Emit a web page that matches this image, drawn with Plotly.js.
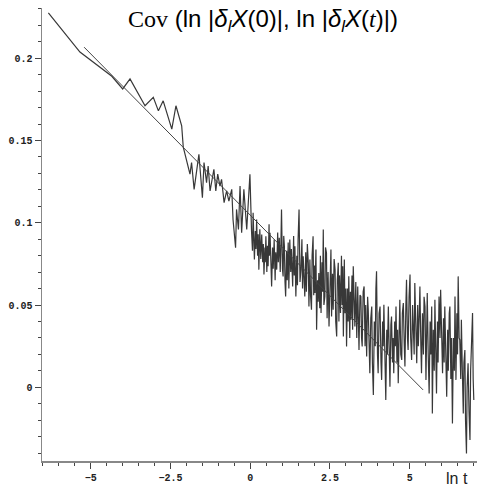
<!DOCTYPE html>
<html>
<head>
<meta charset="utf-8">
<script src="https://cdn.plot.ly/plotly-3.0.1.min.js"></script>
<style>html,body{margin:0;padding:0;background:#fff;}#chart{width:477px;height:486px;}</style>
</head>
<body>
<div id="chart"></div>
<script>
// ln t values of the empirical covariance curve
const lnT = [-6.33,-5.34,-4.34,-4.00,-3.77,-3.30,-3.04,-2.88,-2.73,-2.46,-2.33,-2.15,-2.10,
-1.89,-1.84,-1.76,-1.61,-1.50,-1.45,-1.37,-1.32,-1.26,-1.14,-1.08,-1.02,-0.95,-0.90,-0.82,-0.74,-0.67,-0.58,
-0.54,-0.46,-0.43,-0.37,-0.32,-0.27,-0.20,-0.11,-0.01,
0.04,0.07,0.09,0.11,0.13,0.16,0.18,0.20,0.23,0.25,0.27,0.30,0.33,0.36,0.39,0.41,0.43,0.46,0.47,0.49,
0.52,0.54,0.56,0.59,0.60,0.62,0.64,0.65,0.67,0.70,0.72,0.75,0.78,0.80,0.83,0.86,0.88,0.91,0.94,0.96,0.98,
1.01,1.03,1.05,1.07,1.09,1.11,1.14,1.16,1.19,1.21,1.24,1.27,1.29,1.33,1.36,1.38,1.40,1.43,1.46,1.48,1.50,
1.53,1.56,1.59,1.62,1.64,1.66,1.69,1.71,1.74,1.76,1.79,1.82,1.84,1.86,1.87,1.89,1.92,1.94,1.97,1.99,
2.01,2.03,2.05,2.06,2.08,2.11,2.13,2.15,2.18,2.20,2.22,2.25,2.27,2.29,2.31,2.34,2.36,2.39,2.41,2.44,2.47,
2.50,2.53,2.55,2.58,2.60,2.63,2.66,2.68,2.71,2.73,2.76,2.78,2.80,2.83,2.86,2.88,2.90,2.92,2.95,2.97,
3.00,3.02,3.05,3.07,3.09,3.12,3.14,3.16,3.19,3.21,3.23,3.26,3.28,3.31,3.34,3.37,3.39,3.41,3.44,3.47,3.49,
3.51,3.54,3.57,3.60,3.62,3.65,3.68,3.70,3.72,3.75,3.78,3.81,3.83,3.86,3.89,3.92,3.94,3.96,3.99,
4.01,4.04,4.07,4.10,4.12,4.15,4.17,4.19,4.22,4.25,4.28,4.30,4.33,4.35,4.38,4.41,4.43,4.46,4.48,
4.50,4.53,4.55,4.57,4.60,4.62,4.64,4.67,4.69,4.72,4.75,4.77,4.80,4.83,4.85,4.88,4.90,4.93,4.95,4.98,
5.01,5.03,5.06,5.09,5.11,5.14,5.16,5.19,5.22,5.25,5.27,5.30,5.32,5.35,5.37,5.40,5.43,5.45,5.48,
5.51,5.55,5.58,5.61,5.64,5.66,5.69,5.71,5.74,5.77,5.79,5.82,5.84,5.87,5.89,5.92,5.95,5.97,
6.00,6.03,6.06,6.08,6.10,6.13,6.16,6.19,6.21,6.24,6.26,6.29,6.31,6.34,6.37,6.40,6.42,6.45,6.48,
6.50,6.52,6.55,6.57,6.60,6.62,6.65,6.68,6.70,6.73,6.75,6.78,6.80,6.83,6.86,6.89,6.91,6.94,6.97,6.99,7.01];
// covariance values
const covValues = [0.2276,0.2037,0.189,0.1813,0.1874,0.1711,0.1762,0.168,0.1741,0.1569,0.1711,0.1589,0.1459,
0.1295,0.1366,0.1203,0.1416,0.1152,0.1366,0.1244,0.1345,0.1193,0.1325,0.1193,0.1295,0.1223,0.1264,0.1122,0.1193,0.1132,0.1203,
0.102,0.0848,0.1081,0.0959,0.1223,0.0939,0.1203,0.0959,0.1295,
0.0949,0.083,0.1061,0.088,0.0776,0.095,0.084,0.102,0.08,0.093,0.0715,0.096,0.078,0.0929,0.076,0.087,0.0685,0.085,0.076,0.0918,
0.07,0.086,0.0735,0.099,0.08,0.0939,0.07,0.083,0.0613,0.085,0.072,0.0898,0.065,0.082,0.0715,0.094,0.076,0.0909,0.07,0.086,0.1081,
0.072,0.0674,0.092,0.0857,0.064,0.0552,0.083,0.065,0.088,0.06,0.0898,0.07,0.084,0.0613,0.092,0.068,0.0857,0.0552,0.08,0.062,0.09,
0.1081,0.064,0.0715,0.09,0.06,0.0796,0.065,0.0552,0.082,0.058,0.087,0.0756,0.0491,0.07,0.0776,0.056,0.0471,0.08,0.0918,0.056,
0.074,0.0573,0.08,0.0837,0.0349,0.065,0.052,0.0695,0.048,0.08,0.0451,0.076,0.058,0.0959,0.05,0.0552,0.085,0.0817,0.042,0.07,0.037,
0.072,0.0837,0.043,0.069,0.0471,0.078,0.0715,0.04,0.0309,0.065,0.0756,0.04,0.068,0.0451,0.08,0.05,0.0735,0.0309,0.0776,0.045,
0.06,0.0248,0.06,0.04,0.0674,0.03,0.058,0.041,0.068,0.035,0.0735,0.045,0.037,0.064,0.03,0.0613,0.042,0.0227,0.056,0.0552,0.03,
0.0248,0.058,0.0613,0.025,0.05,0.0187,0.055,0.0471,0.02,0.0085,0.042,0.0491,0.015,-0.0047,0.04,0.025,0.06,0.0705,0.02,
0.0085,0.045,0.0491,0.015,0.0045,0.04,0.025,0.0502,0.01,-0.0077,0.035,0.02,0.0491,0.015,0.0004,0.038,0.043,0.015,0.03,
0.0085,0.04,0.025,0.0491,0.015,0.035,0.0024,0.045,0.0532,0.02,0.0166,0.045,0.0512,0.025,0.0126,0.05,0.0654,0.03,0.0227,0.055,
0.0685,0.03,0.0166,0.05,0.035,0.02,0.0634,0.035,0.0146,0.05,0.025,0.045,0.0613,0.025,0.0085,0.045,0.02,0.055,0.0491,
0.0045,0.0573,0.02,-0.0037,0.04,0.02,0.0491,-0.0159,0.035,0.01,0.0532,0.02,-0.0037,0.04,0.015,0.0552,0.03,0.0593,
0.025,0.0085,0.042,0.015,0.0491,0.02,-0.0057,0.035,0.01,0.045,0.0491,0.005,0.03,-0.022,0.03,0.01,0.0552,0.0045,0.045,
0.02,0.0674,0.03,0.0288,0.005,0.041,0.01,-0.0159,0.015,0.0227,-0.02,-0.0402,0.0,0.0146,-0.015,-0.0321,0.01,0.03,0.0451,0.005,-0.0077];
// fitted straight line (end points)
const fitX = [-5.21, 5.42];
const fitY = [0.2067, -0.0016];
const xTickVals = [-5, -2.5, 0, 2.5, 5];
const yTickVals = [0, 0.05, 0.1, 0.15, 0.2];

const tickFont = {family: 'Liberation Mono, monospace', size: 10, color: '#222', weight: 'bold'};

const traces = [
  {x: lnT, y: covValues, type: 'scatter', mode: 'lines', line: {color: '#383838', width: 1.2}, hoverinfo: 'skip'},
  {x: fitX, y: fitY, type: 'scatter', mode: 'lines', line: {color: '#444', width: 1}, hoverinfo: 'skip'}
];

const layout = {
  width: 477, height: 486,
  margin: {l: 42, r: 0, t: 8, b: 25},
  paper_bgcolor: '#fff', plot_bgcolor: '#fff',
  showlegend: false,
  title: {
    text: '<span style="font-family:Liberation Serif">Cov</span> (ln |<i>δ<sub>l</sub>X</i>(0)|, ln |<i>δ<sub>l</sub>X</i>(<span style="font-family:Liberation Serif;font-style:italic">t</span>)|)',
    font: {family: 'Liberation Sans, sans-serif', size: 24, color: '#000'},
    xref: 'paper', x: 0.508, xanchor: 'center',
    yref: 'container', y: 0.962, yanchor: 'middle'
  },
  xaxis: {
    range: [-6.53, 7.11], showgrid: false, zeroline: false,
    showline: true, linecolor: '#888', linewidth: 1.5,
    ticks: 'outside', ticklen: 6, tickcolor: '#444', tickwidth: 1,
    tickvals: xTickVals, tickfont: tickFont,
    minor: {dtick: 0.5, tick0: 0, ticks: 'outside', ticklen: 3, tickcolor: '#444', showgrid: false}
  },
  yaxis: {
    range: [-0.0448, 0.2305], showgrid: false, zeroline: false,
    showline: true, linecolor: '#888', linewidth: 1.5,
    ticks: 'outside', ticklen: 6, tickcolor: '#444', tickwidth: 1,
    tickvals: yTickVals, tickfont: tickFont,
    minor: {dtick: 0.01, tick0: 0, ticks: 'outside', ticklen: 3, tickcolor: '#444', showgrid: false}
  },
  annotations: [{
    text: 'ln t', xref: 'paper', yref: 'paper', x: 0.954, y: 0, xanchor: 'center', yanchor: 'middle',
    yshift: -17, showarrow: false, font: {family: 'Liberation Sans, sans-serif', size: 16, color: '#222'}
  }]
};

Plotly.newPlot('chart', traces, layout, {staticPlot: true, displayModeBar: false});
</script>
</body>
</html>
